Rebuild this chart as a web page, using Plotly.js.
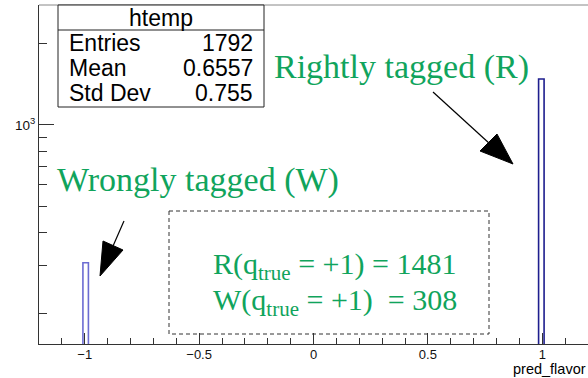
<!DOCTYPE html>
<html>
<head>
<meta charset="utf-8">
<script src="https://cdn.plot.ly/plotly-3.0.1.min.js"></script>
<style>html,body{margin:0;padding:0;background:#fff;}#chart{width:588px;height:378px;}</style>
</head>
<body>
<div id="chart"></div>
<script>
// Histogram of pred_flavor (bin centres, counts)
const binCenters = [-0.996, 0.996];
const binCounts = [308, 1481];
const binWidth = 0.024;
const barLineColors = ['#6c6cd2', '#1e1e8e'];

// Stats box
const statsTitle = 'htemp';
const statsLabels = ['Entries', 'Mean', 'Std Dev'];
const statsValues = ['1792', '0.6557', '0.755'];

// Annotation texts
const labelR = 'Rightly tagged (R)';
const labelW = 'Wrongly tagged (W)';
const boxLines = ['R(q<sub>true</sub> = +1) = 1481', 'W(q<sub>true</sub> = +1)  = 308'];

const xTitle = 'pred_flavor';
const yTickVals = [1000];
const yTickText = ['10<sup>3</sup>'];
const yMinorVals = [200, 300, 400, 500, 600, 700, 800, 900, 2000];

// plot-area geometry (pixels)
const L = 39, T = 5, W = 549, H = 339;
const px = x => (x - L) / W;
const py = y => (T + H - y) / H;

const green = '#10a45c';
const sans = "'Liberation Sans', Arial, Helvetica, sans-serif";
const serif = "'Liberation Serif', 'Times New Roman', Times, 'Nimbus Roman', 'Noto Serif', 'DejaVu Serif', FreeSerif, Tinos, serif";

function tri(pts) {
  return 'M' + pts.map(p => px(p[0]) + ',' + py(p[1])).join(' L') + ' Z';
}

const shapes = [
  // top frame line
  {type: 'line', xref: 'paper', yref: 'paper', x0: 0, x1: 1, y0: 1, y1: 1, line: {color: '#888', width: 1}},
  // stats box
  {type: 'rect', xref: 'paper', yref: 'paper', x0: px(58), x1: px(264), y0: py(5), y1: py(107), line: {color: '#222', width: 1}, fillcolor: 'white', layer: 'above'},
  {type: 'line', xref: 'paper', yref: 'paper', x0: px(58), x1: px(264), y0: py(30), y1: py(30), line: {color: '#222', width: 1}, layer: 'above'},
  // dashed box
  {type: 'rect', xref: 'paper', yref: 'paper', x0: px(169), x1: px(489), y0: py(211), y1: py(334), line: {color: '#333', width: 1, dash: '4px,3px'}},
  // arrow R
  {type: 'line', xref: 'paper', yref: 'paper', x0: px(433), y0: py(92), x1: px(490), y1: py(144), line: {color: '#000', width: 1.2}},
  {type: 'path', xref: 'paper', yref: 'paper', path: tri([[513, 164], [480, 151], [497, 134]]), fillcolor: '#000', line: {color: '#000', width: 1}},
  // arrow W
  {type: 'line', xref: 'paper', yref: 'paper', x0: px(124), y0: py(221), x1: px(113), y1: py(246), line: {color: '#000', width: 1.2}},
  {type: 'path', xref: 'paper', yref: 'paper', path: tri([[100, 276], [103, 241], [123, 250]]), fillcolor: '#000', line: {color: '#000', width: 1}}
];

const annotations = [
  {xref: 'paper', yref: 'paper', x: px(161), y: py(17.5), text: statsTitle, showarrow: false, xanchor: 'center', yanchor: 'middle', font: {family: sans, size: 23, color: '#000'}},
  {xref: 'paper', yref: 'paper', x: px(272), y: py(67), text: labelR, showarrow: false, xanchor: 'left', yanchor: 'middle', font: {family: serif, size: 34, color: green}},
  {xref: 'paper', yref: 'paper', x: px(55), y: py(180), text: labelW, showarrow: false, xanchor: 'left', yanchor: 'middle', font: {family: serif, size: 34, color: green}},
  {xref: 'paper', yref: 'paper', x: px(211), y: py(266), text: boxLines[0], showarrow: false, xanchor: 'left', yanchor: 'middle', font: {family: serif, size: 30, color: green}},
  {xref: 'paper', yref: 'paper', x: px(211), y: py(302), text: boxLines[1], showarrow: false, xanchor: 'left', yanchor: 'middle', font: {family: serif, size: 30, color: green}},
  {xref: 'paper', yref: 'paper', x: 1, y: py(368.5), text: xTitle, showarrow: false, xanchor: 'right', yanchor: 'middle', font: {family: sans, size: 14.5, color: '#000'}}
];
const rowY = [43, 67.5, 92.5];
statsLabels.forEach((s, i) => {
  annotations.push({xref: 'paper', yref: 'paper', x: px(67), y: py(rowY[i]), text: s, showarrow: false, xanchor: 'left', yanchor: 'middle', font: {family: sans, size: 23, color: '#000'}});
  annotations.push({xref: 'paper', yref: 'paper', x: px(255), y: py(rowY[i]), text: statsValues[i], showarrow: false, xanchor: 'right', yanchor: 'middle', font: {family: sans, size: 23, color: '#000'}});
});

const trace = {
  type: 'bar',
  x: binCenters,
  y: binCounts,
  width: binWidth,
  marker: {color: 'rgba(255,255,255,0)', line: {color: barLineColors, width: 1.6}},
  hoverinfo: 'x+y'
};

const layout = {
  width: 588, height: 378,
  margin: {l: L, r: 588 - L - W, t: T, b: 378 - T - H, pad: 0},
  paper_bgcolor: 'white', plot_bgcolor: 'white',
  showlegend: false,
  bargap: 0,
  xaxis: {
    range: [-1.2, 1.2], showgrid: false, zeroline: false,
    showline: true, linecolor: '#333', linewidth: 1,
    tick0: 0, dtick: 0.5, ticks: 'inside', ticklen: 11, tickcolor: '#333',
    ticklabelstandoff: -2,
    tickfont: {family: sans, size: 13, color: '#111'},
    minor: {dtick: 0.1, tick0: 0, ticks: 'inside', ticklen: 6, tickcolor: '#333', showgrid: false}
  },
  yaxis: {
    type: 'log', range: [2.187, 3.445], showgrid: false, zeroline: false,
    showline: true, linecolor: '#333', linewidth: 1,
    tickmode: 'array', tickvals: yTickVals, ticktext: yTickText,
    ticks: 'inside', ticklen: 15, tickcolor: '#333',
    tickfont: {family: sans, size: 13.5, color: '#111'},
    minor: {tickmode: 'array', tickvals: yMinorVals, ticks: 'inside', ticklen: 8, tickcolor: '#333', showgrid: false}
  },
  shapes: shapes,
  annotations: annotations
};

Plotly.newPlot('chart', [trace], layout, {staticPlot: true, displayModeBar: false});
</script>
</body>
</html>
